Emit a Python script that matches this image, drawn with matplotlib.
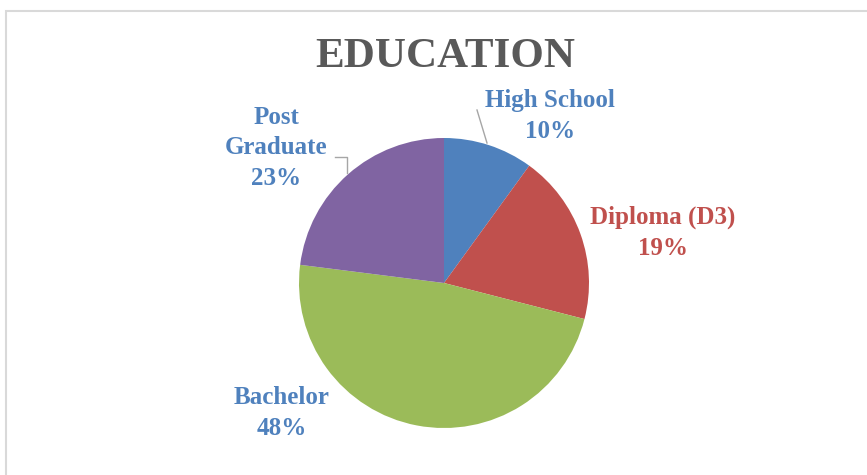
import matplotlib.pyplot as plt
from matplotlib.patches import Rectangle

# data
categories = ["High School", "Diploma (D3)", "Bachelor", "Post\nGraduate"]
shares = [10, 19, 48, 23]
colors = ["#4F81BD", "#C0504D", "#9BBB59", "#8064A2"]
label_colors = ["#4F81BD", "#C0504D", "#4F81BD", "#4F81BD"]

W, H = 867, 475

fig = plt.figure(figsize=(W / 100, H / 100), dpi=100)
ax = fig.add_axes([0, 0, 1, 1])

# chart border (clipped at right and bottom like the source)
ax.add_patch(Rectangle((6, -20), W + 40, H - 11 + 20, fill=False,
                       edgecolor="#d9d9d9", linewidth=1.5))

cx, cy, r = 444, H - 283, 145
ax.pie(shares, colors=colors, startangle=90, counterclock=False,
       center=(cx, cy), radius=r, frame=True,
       wedgeprops=dict(linewidth=0))
ax.set_xlim(0, W)
ax.set_ylim(0, H)
ax.set_aspect("equal")
ax.axis("off")

font = "Liberation Serif"
ax.text(445, H - 57, "EDUCATION", ha="center", va="center", fontsize=31,
        fontweight="bold", color="#595959", family=font)

label_pos = [(550, 116), (663, 233), (282, 413), (276, 148)]
for cat, val, col, (lx, ly) in zip(categories, shares, label_colors, label_pos):
    ax.text(lx, H - ly, f"{cat}\n{val}%", ha="center", va="center",
            fontsize=18, fontweight="bold", color=col, family=font,
            linespacing=1.42)

# leader lines
ax.plot([477, 487], [H - 110, H - 143], color="#a6a6a6", linewidth=1)
ax.plot([335, 347, 347], [H - 157, H - 157, H - 173], color="#a6a6a6", linewidth=1)

fig.savefig("out.png", dpi=100)
